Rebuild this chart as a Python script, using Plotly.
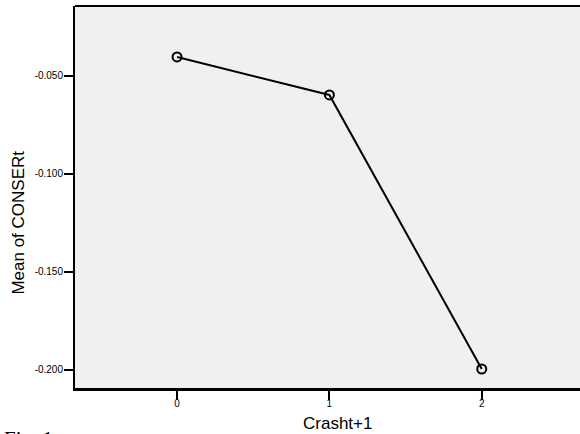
import plotly.graph_objects as go

categories = [0, 1, 2]
means = [-0.0403, -0.0597, -0.1995]
y_ticks = [-0.05, -0.10, -0.15, -0.20]
y_tick_labels = ["-0.050", "-0.100", "-0.150", "-0.200"]
x_tick_labels = ["0", "1", "2"]

fig = go.Figure()
fig.add_trace(go.Scatter(
    x=categories, y=means, mode="lines+markers",
    line=dict(color="black", width=2),
    marker=dict(symbol="circle-open", size=9, color="black", line=dict(width=2, color="black")),
    showlegend=False, hoverinfo="skip",
))

font_sans = "Liberation Sans, Arial, sans-serif"
fig.update_layout(
    width=580, height=434,
    margin=dict(l=75, r=0, t=6, b=46),
    paper_bgcolor="white", plot_bgcolor="#f0f0f0",
    font=dict(family=font_sans, color="black"),
    xaxis=dict(
        range=[-0.67, 2.645], tickvals=categories, ticktext=x_tick_labels,
        showgrid=False, zeroline=False, showline=True, linecolor="black", linewidth=3,
        ticks="outside", ticklen=9, tickwidth=2, tickcolor="black",
        tickfont=dict(size=10, family=font_sans), ticklabelstandoff=-5,
    ),
    yaxis=dict(
        range=[-0.2092, -0.0143], tickvals=y_ticks, ticktext=y_tick_labels,
        showgrid=False, zeroline=False, showline=True, linecolor="black", linewidth=2,
        ticks="outside", ticklen=9, tickwidth=2, tickcolor="black",
        tickfont=dict(size=10, family=font_sans), ticklabelstandoff=-1,
    ),
    shapes=[dict(type="line", xref="paper", yref="paper", x0=0, x1=1, y0=1, y1=1,
                 line=dict(color="black", width=2))],
    annotations=[
        dict(text="Crasht+1", xref="paper", yref="paper", x=(337-75)/505, y=(434-46-424)/388,
             xanchor="center", yanchor="middle", showarrow=False,
             font=dict(size=17, family=font_sans, color="black")),
        dict(text="Mean of CONSERt", xref="paper", yref="paper", x=(19-75)/505, y=(388-220)/388,
             xanchor="center", yanchor="middle", showarrow=False, textangle=-90,
             font=dict(size=17, family=font_sans, color="black")),
        dict(text="Fig. 1", xref="paper", yref="paper", x=(2-75)/505, y=(388-425.5)/388,
             xanchor="left", yanchor="top", showarrow=False,
             font=dict(size=21, family="Liberation Serif, Times New Roman, serif", color="black")),
    ],
)

fig.write_html("out.html", config={"displayModeBar": False},
               post_script="document.body.style.margin='0';document.body.style.overflow='hidden';")
